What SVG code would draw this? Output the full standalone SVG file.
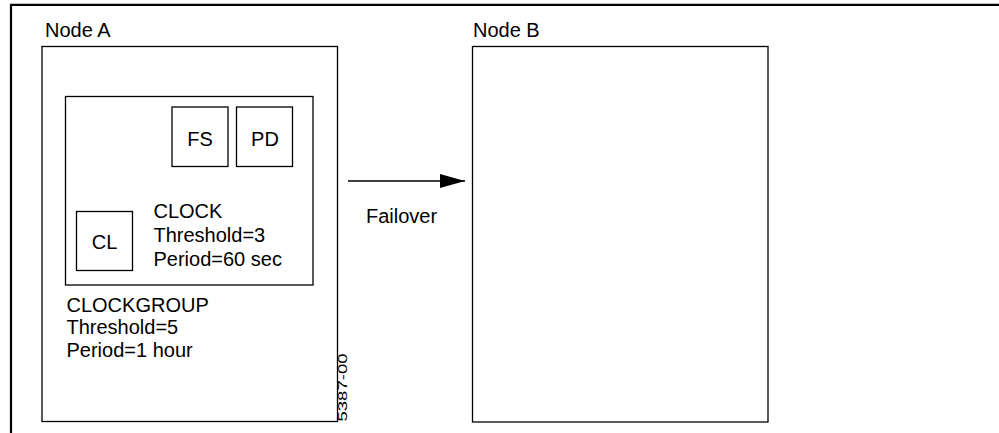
<svg xmlns="http://www.w3.org/2000/svg" width="999" height="433" viewBox="0 0 999 433">
  <style>
    .box { fill: none; stroke: #000; stroke-width: 1.3; }
    .lbl { font-family: "Liberation Sans", Arial, sans-serif; font-size: 20px; fill: #000; }
    .mid { text-anchor: middle; }
    .fig { font-family: "Liberation Sans", Arial, sans-serif; font-size: 12.5px; fill: #000; }
  </style>
  <defs>
    <marker id="arrowhead" viewBox="0 0 25 14" refX="25" refY="7" markerWidth="25" markerHeight="14" markerUnits="userSpaceOnUse" orient="auto">
      <path d="M0,0 L25,7 L0,14 Z" fill="#000"/>
    </marker>
  </defs>
  <rect width="999" height="433" fill="#fff"/>

  <!-- page frame -->
  <path d="M11,433 L11,4.8 L999,4.8" fill="none" stroke="#000" stroke-width="2.2"/>

  <g id="node-a">
    <text class="lbl" x="45" y="37">Node A</text>
    <rect class="box" x="42" y="46.5" width="295.5" height="375"/>
  </g>

  <g id="clockgroup">
    <rect class="box" x="65.5" y="96.5" width="247.5" height="188.5"/>
    <text class="lbl" x="66.5" y="311.5">CLOCKGROUP</text>
    <text class="lbl" x="66.5" y="334">Threshold=5</text>
    <text class="lbl" x="66.5" y="357">Period=1 hour</text>
  </g>

  <g id="fs">
    <rect class="box" x="172" y="107" width="56" height="59.5"/>
    <text class="lbl mid" x="200" y="145.5">FS</text>
  </g>

  <g id="pd">
    <rect class="box" x="236.5" y="107" width="56" height="59.5"/>
    <text class="lbl mid" x="265" y="145.5">PD</text>
  </g>

  <g id="cl">
    <rect class="box" x="76.5" y="211.5" width="56" height="59"/>
    <text class="lbl mid" x="104.5" y="248.5">CL</text>
  </g>

  <g id="clock">
    <text class="lbl" x="153.5" y="218">CLOCK</text>
    <text class="lbl" x="153.5" y="242">Threshold=3</text>
    <text class="lbl" x="153.5" y="265.5">Period=60 sec</text>
  </g>

  <g id="node-b">
    <text class="lbl" x="473" y="37">Node B</text>
    <rect class="box" x="472.5" y="46.5" width="295.5" height="375.5"/>
  </g>

  <g id="connectors">
    <line x1="348" y1="181" x2="465" y2="181" stroke="#000" stroke-width="1.3" marker-end="url(#arrowhead)"/>
    <text class="lbl" x="366" y="223">Failover</text>
  </g>

  <!-- figure number -->
  <text class="fig" transform="translate(346.5,421.5) rotate(-90)" textLength="68" lengthAdjust="spacingAndGlyphs">5387-00</text>
</svg>
